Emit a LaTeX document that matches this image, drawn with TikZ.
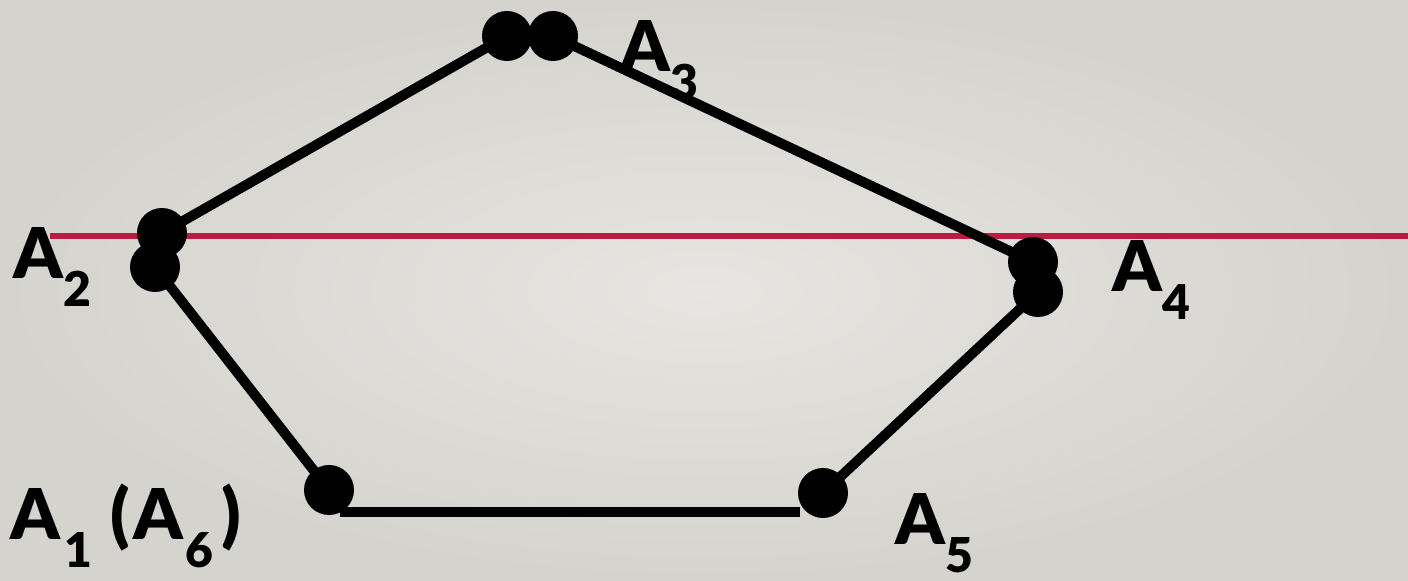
\documentclass[tikz,border=0pt]{standalone}
\usepackage{fontspec}
\setmainfont{Lato}[BoldFont={Lato Black}]
\definecolor{bgin}{RGB}{231,229,225}
\definecolor{bgout}{RGB}{213,211,206}
\definecolor{cutred}{RGB}{184,28,64}
\newcommand{\vsub}[1]{\raisebox{-14pt}{\fontsize{24}{24}\selectfont #1}}
\tikzset{
  dot/.style={circle, fill=black, minimum size=25pt, inner sep=0pt},
  edge/.style={line width=5pt, black},
  lbl/.style={anchor=base west, inner sep=0pt, font=\fontsize{35}{40}\selectfont\bfseries},
}

\begin{document}
\begin{tikzpicture}[x=0.5pt, y=-0.5pt]
  \useasboundingbox (0,0) rectangle (1408,581);
  \shade[inner color=bgin, outer color=bgout] (0,0) rectangle (1408,581);

  % cutting line
  \coordinate (rl) at (50,236);
  \coordinate (rr) at (1408,236);
  \draw[line width=3pt, cutred] (rl) -- (rr);

  % vertices
  \node[dot] (a1) at (329,490) {};
  \node[dot] (a2u) at (162,233) {};
  \node[dot] (a2l) at (155,267) {};
  \node[dot] (a3l) at (507,36) {};
  \node[dot] (a3r) at (553,36) {};
  \node[dot] (a4u) at (1033,262) {};
  \node[dot] (a4l) at (1038,292) {};
  \node[dot] (a5) at (823,493) {};
  \coordinate (bl) at (340,512);
  \coordinate (br) at (800,512);

  % sides
  \draw[edge] (a1.center) -- (a2l.center);
  \draw[edge] (a2u.center) -- (a3l.center);
  \draw[edge] (a3r.center) -- (a4u.center);
  \draw[edge] (a4l.center) -- (a5.center);
  \draw[edge] (bl) -- (br);

  % labels
  \node[lbl] (l1) at (10,540) {A\hspace{2pt}\vsub{1}\hspace{9pt}(\hspace{2pt}A\hspace{1pt}\vsub{6}\hspace{4pt})};
  \node[lbl] (l2) at (13,279) {A\vsub{2}};
  \node[lbl] (l3) at (620,72) {A\vsub{3}};
  \node[lbl] (l4) at (1112,292) {A\vsub{4}};
  \node[lbl] (l5) at (895,545) {A\vsub{5}};
\end{tikzpicture}
\end{document}
